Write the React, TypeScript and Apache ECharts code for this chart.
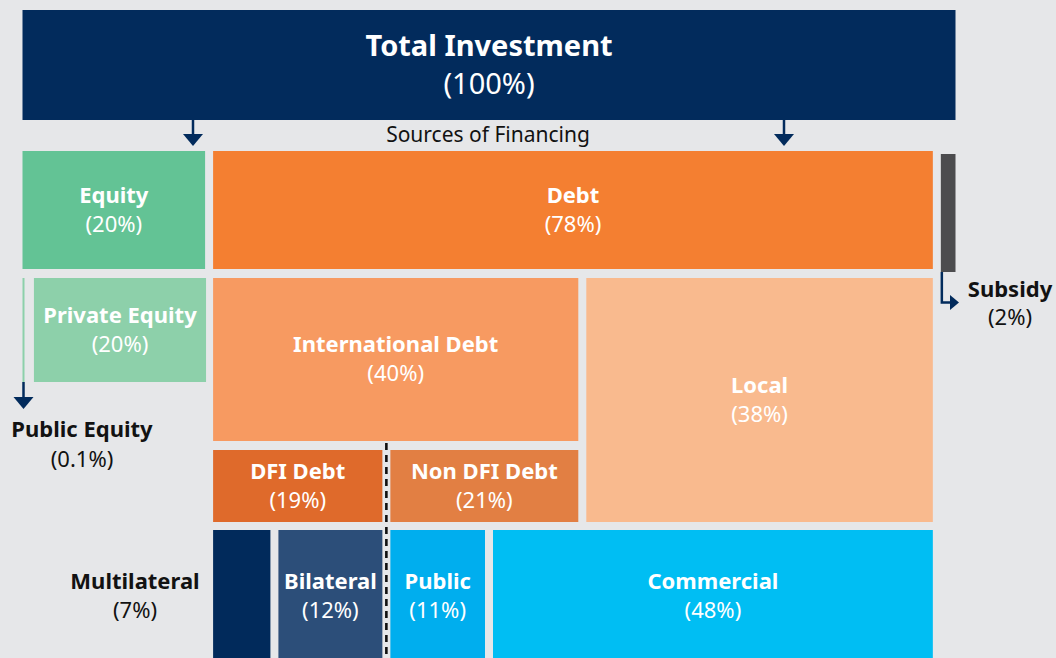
import React, { useEffect, useRef } from "react";
import * as echarts from "echarts";

// ---------- DATA ----------
const topName = "Total Investment";
const topValue = 100;
const headerLabel = "Sources of Financing";

const sourceNames = ["Equity", "Debt", "Subsidy"];
const sourceValues = [20, 78, 2];

const equityNames = ["Public Equity", "Private Equity"];
const equityValues = [0.1, 20];

const debtNames = ["International Debt", "Local"];
const debtValues = [40, 38];

const intlNames = ["DFI Debt", "Non DFI Debt"];
const intlValues = [19, 21];

const lenderNames = ["Multilateral", "Bilateral", "Public", "Commercial"];
const lenderValues = [7, 12, 11, 48];

// ---------- STYLE / LAYOUT ----------
const W = 1056;
const H = 658;
const BG = "#e6e7e9";
const NAVY = "#022b5c";
const INK = "#121212";
const FONT = "'Noto Sans', Lato, sans-serif";
const GRID_LEFT = 22.5;
const GRID_RIGHT = 955.5;
const GAP = 4;
const TEXT_DY = -2;
const BANDS: number[][] = [
  [10, 120],
  [151, 269],
  [278, 441],
  [450, 522],
  [530, 664],
];

const topColor = NAVY;
const sourceColors = ["#63c395", "#f47f31", "#4c4c4e"];
const equityColors = ["#8dd0aa", "#8dd0aa"];
const debtColors = ["#f79a61", "#f9ba8e"];
const intlColors = ["#df6a2b", "#e27f43"];
const lenderColors = ["#012a5b", "#2c4e79", "#00aeee", "#00bef3"];

type Box = {
  name: string;
  value: number;
  start: number;
  y0: number;
  y1: number;
  color: string;
  inside: boolean;
  extraLeft: number;
  big: boolean;
};

const boxes: Box[] = [];
function addRow(
  names: string[],
  values: number[],
  colors: string[],
  start: number,
  y0: number,
  y1: number,
  opts: { outside?: string[]; extraLeft?: Record<string, number>; yShift?: Record<string, number>; y1Override?: Record<string, number>; big?: boolean } = {}
): number[] {
  let s = start;
  const starts: number[] = [];
  names.forEach((n, i) => {
    starts.push(s);
    const sh = (opts.yShift && opts.yShift[n]) || 0;
    boxes.push({
      name: n,
      value: values[i],
      start: s,
      y0: y0 + sh,
      y1: (opts.y1Override && opts.y1Override[n]) || y1 + sh,
      color: colors[i],
      inside: !(opts.outside || []).includes(n),
      extraLeft: (opts.extraLeft && opts.extraLeft[n]) || 0,
      big: !!opts.big,
    });
    s += values[i];
  });
  return starts;
}

addRow([topName], [topValue], [topColor], 0, BANDS[0][0], BANDS[0][1], { big: true });
const sourceStarts = addRow(sourceNames, sourceValues, sourceColors, 0, BANDS[1][0], BANDS[1][1], {
  outside: ["Subsidy"],
  yShift: { Subsidy: 3 },
});
addRow(equityNames, equityValues, equityColors, sourceStarts[0], BANDS[2][0], 382, {
  outside: ["Public Equity"],
  extraLeft: { "Private Equity": 6.5 },
});
const debtStarts = addRow(debtNames, debtValues, debtColors, sourceStarts[1], BANDS[2][0], BANDS[2][1], {
  y1Override: { Local: BANDS[3][1] },
});
const intlStarts = addRow(intlNames, intlValues, intlColors, debtStarts[0], BANDS[3][0], BANDS[3][1]);
addRow(lenderNames, lenderValues, lenderColors, intlStarts[0], BANDS[4][0], BANDS[4][1], {
  outside: ["Multilateral"],
});

const pct = (v: number) => `(${v}%)`;
const label = (name: string, v: number) => `{b|${name}}\n{r|${pct(v)}}`;
const rich = (fill: string, size = 22, lh = 29) => ({
  b: { fontFamily: FONT, fontWeight: "bold", fontSize: size, lineHeight: lh, fill },
  r: { fontFamily: FONT, fontWeight: "normal", fontSize: size, lineHeight: lh, fill },
});

const xPix = (p: number) => GRID_LEFT + (p * (GRID_RIGHT - GRID_LEFT)) / 100;

export default function App() {
  const ref = useRef<HTMLDivElement>(null);

  useEffect(() => {
    if (!ref.current) return;
    document.body.style.margin = "0";
    const chart = echarts.init(ref.current, undefined, { renderer: "svg" });

    const find = (n: string) => boxes.find((b) => b.name === n)!;
    const pub = find("Public Equity");
    const sub = find("Subsidy");
    const mul = find("Multilateral");
    const dfiEnd = intlStarts[1];

    const arrowDown = (x: number, yTop: number, tip: number) => [
      { type: "line", shape: { x1: x, y1: yTop, x2: x, y2: tip - 11 }, style: { stroke: NAVY, lineWidth: 2.5 } },
      {
        type: "polygon",
        shape: { points: [[x - 10, tip - 12], [x + 10, tip - 12], [x, tip]] },
        style: { fill: NAVY },
      },
    ];

    const subX = xPix(sub.start) + GAP + 1;
    const graphic: any[] = [
      ...arrowDown(193, BANDS[0][1], 146),
      ...arrowDown(784, BANDS[0][1], 146),
      {
        type: "text",
        x: 488,
        y: 134,
        style: { text: headerLabel, fontFamily: FONT, fontSize: 21, fill: INK, align: "center", verticalAlign: "middle" },
      },
      ...arrowDown(xPix(pub.start) + 1, pub.y1, 409),
      {
        type: "polyline",
        shape: { points: [[subX, sub.y1], [subX, 302.5], [951, 302.5]] },
        style: { stroke: NAVY, lineWidth: 2.5, fill: null },
      },
      {
        type: "polygon",
        shape: { points: [[950, 295], [950, 310], [959, 302.5]] },
        style: { fill: NAVY },
      },
      {
        type: "line",
        shape: { x1: xPix(dfiEnd), y1: 443, x2: xPix(dfiEnd), y2: H },
        style: { stroke: "#111", lineWidth: 2.6, lineDash: [7, 5] },
      },
      {
        type: "text",
        x: 82,
        y: 445 + TEXT_DY,
        style: { text: label(pub.name, pub.value), rich: rich(INK, 22, 30), align: "center", verticalAlign: "middle" },
      },
      {
        type: "text",
        x: 1010,
        y: 304 + TEXT_DY,
        style: { text: label(sub.name, sub.value), rich: rich(INK, 22, 28), align: "center", verticalAlign: "middle" },
      },
      {
        type: "text",
        x: 135,
        y: 596.5 + TEXT_DY,
        style: { text: label(mul.name, mul.value), rich: rich(INK, 22, 29), align: "center", verticalAlign: "middle" },
      },
    ];

    chart.setOption({
      animation: false,
      backgroundColor: BG,
      grid: { left: GRID_LEFT, right: W - GRID_RIGHT, top: 0, bottom: 0 },
      xAxis: { type: "value", min: 0, max: 100, show: false },
      yAxis: { type: "value", min: 0, max: H, inverse: true, show: false },
      series: [
        {
          type: "custom",
          clip: false,
          data: boxes.map((b) => [b.start, b.start + b.value, b.y0, b.y1]),
          encode: { x: [0, 1], y: [2, 3] },
          renderItem: (params: any, api: any) => {
            const b = boxes[params.dataIndex];
            const p0 = api.coord([api.value(0), api.value(2)]);
            const p1 = api.coord([api.value(1), api.value(3)]);
            const x0 = p0[0] + (b.start > 0 ? GAP : 0) + b.extraLeft;
            let x1 = p1[0] - (b.start + b.value < 100 ? GAP : 0);
            if (x1 - x0 < 2) x1 = x0 + 2;
            const children: any[] = [
              {
                type: "rect",
                shape: { x: x0, y: p0[1], width: x1 - x0, height: p1[1] - p0[1] },
                style: { fill: b.color },
              },
            ];
            if (b.inside) {
              children.push({
                type: "text",
                x: (x0 + x1) / 2,
                y: (p0[1] + Math.min(p1[1], 663)) / 2 + TEXT_DY,
                style: {
                  text: label(b.name, b.value),
                  rich: b.big ? rich("#ffffff", 29, 38) : rich("#ffffff", 22, 29),
                  align: "center",
                  verticalAlign: "middle",
                },
              });
            }
            return { type: "group", children };
          },
        },
      ],
      graphic,
    });

    return () => chart.dispose();
  }, []);

  return (
    <div
      ref={ref}
      style={{ position: "fixed", left: 0, top: 0, width: W, height: H, background: BG }}
    />
  );
}
